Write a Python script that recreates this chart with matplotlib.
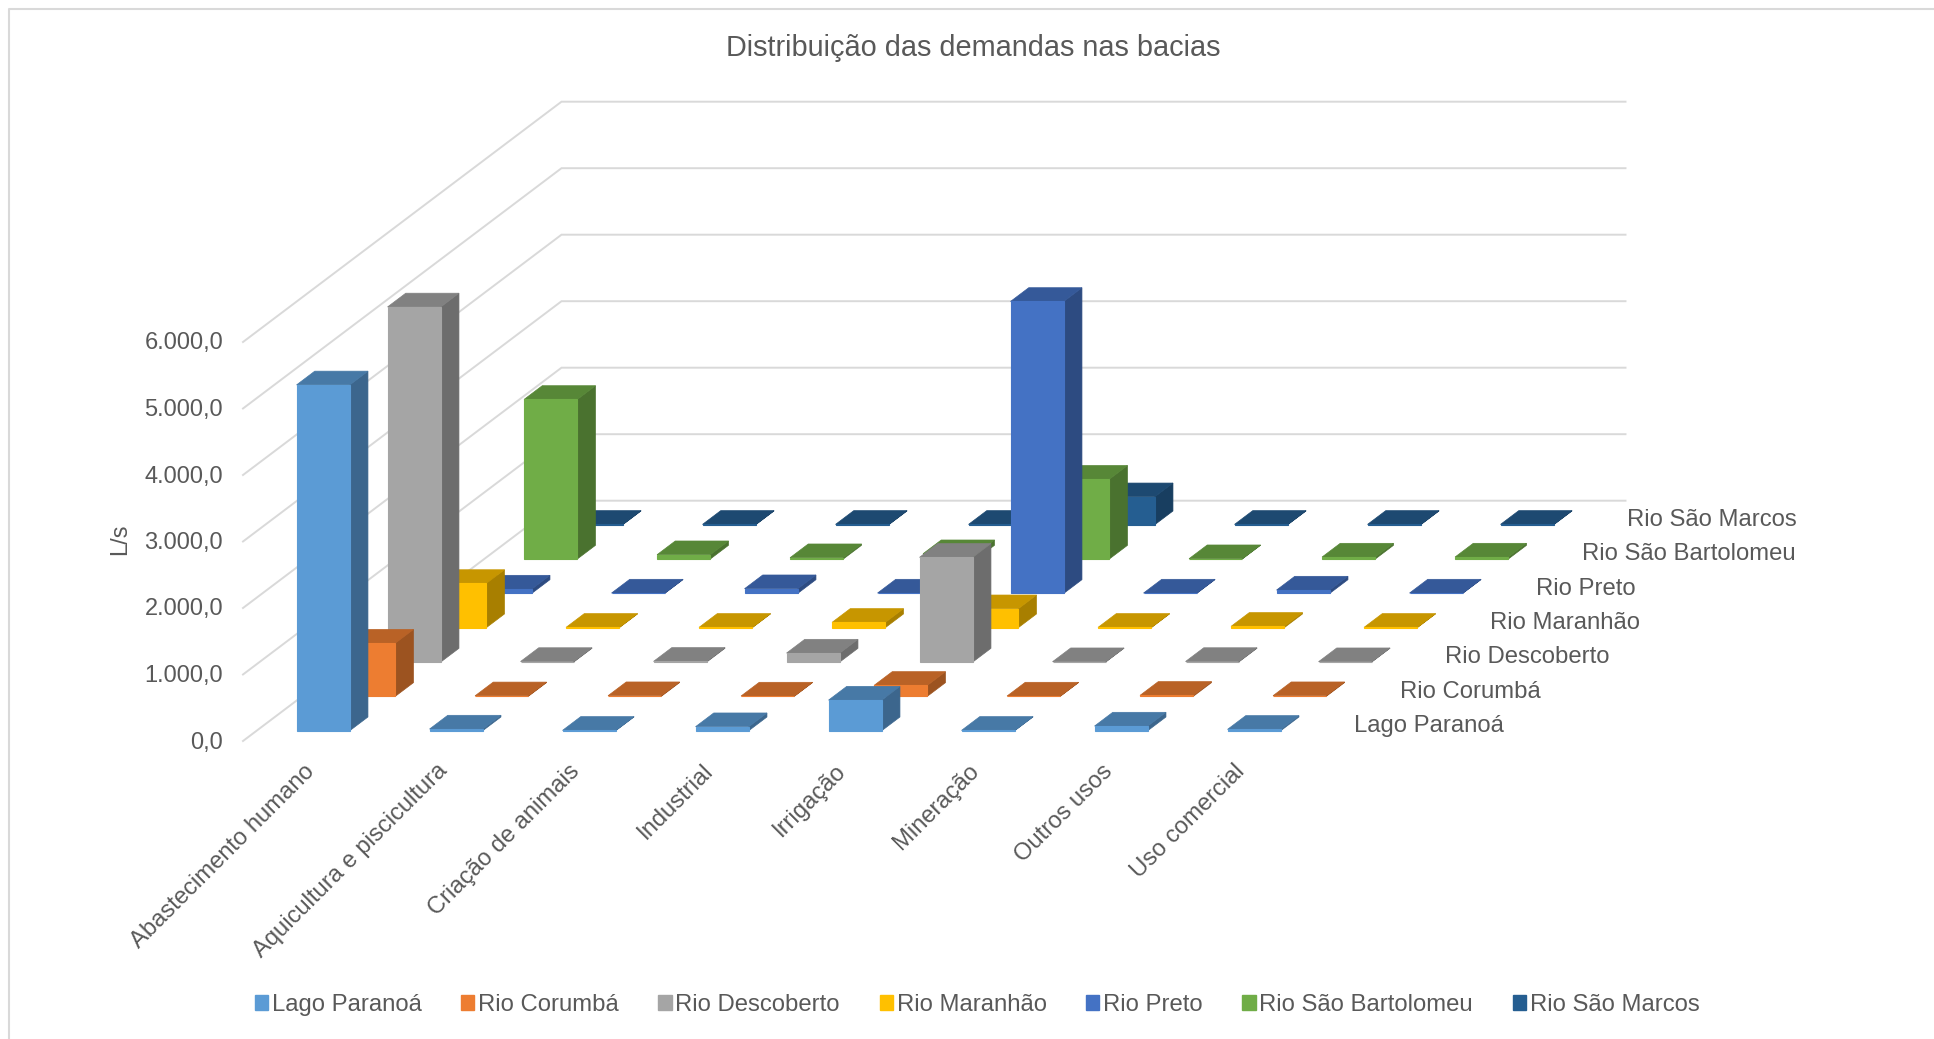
import matplotlib
matplotlib.use('Agg')
import matplotlib.pyplot as plt
from matplotlib.patches import Polygon, Patch
from matplotlib.colors import to_rgb

plt.rcParams['font.family'] = ['Liberation Sans', 'DejaVu Sans']

# ── Data (L/s) ───────────────────────────────────────────────────────────────
categories = ['Abastecimento humano', 'Aquicultura e piscicultura',
              'Criação de animais', 'Industrial', 'Irrigação', 'Mineração',
              'Outros usos', 'Uso comercial']
series_names = ['Lago Paranoá', 'Rio Corumbá', 'Rio Descoberto', 'Rio Maranhão',
                'Rio Preto', 'Rio São Bartolomeu', 'Rio São Marcos']
lago_paranoa = [5200, 25, 5, 60, 460, 5, 70, 20]
rio_corumba = [800, 8, 10, 5, 165, 5, 15, 10]
rio_descoberto = [5340, 8, 10, 135, 1575, 5, 8, 5]
rio_maranhao = [665, 5, 5, 80, 285, 5, 20, 5]
rio_preto = [65, 5, 70, 5, 4390, 5, 50, 5]
rio_sao_bartolomeu = [2400, 65, 20, 80, 1200, 5, 30, 30]
rio_sao_marcos = [5, 5, 5, 5, 420, 5, 5, 5]
values = [lago_paranoa, rio_corumba, rio_descoberto, rio_maranhao,
          rio_preto, rio_sao_bartolomeu, rio_sao_marcos]
y_ticks = [0, 1000, 2000, 3000, 4000, 5000, 6000]
y_tick_labels = ['0,0', '1.000,0', '2.000,0', '3.000,0', '4.000,0', '5.000,0', '6.000,0']

colors = ['#5B9BD5', '#ED7D31', '#A5A5A5', '#FFC000', '#4472C4', '#70AD47', '#255E91']
text_color = '#595959'
grid_color = '#D9D9D9'

# ── Oblique projection, axes work in figure pixels ───────────────────────────
x0, y0 = 243.0, 741.0
cat_step = 133.0
depth_dx, depth_dy = 45.5, 34.33
px_per_unit = 66.5 / 1000


def project(cat, depth, value=0.0):
    return (x0 + cat * cat_step + depth * depth_dx,
            y0 - depth * depth_dy - value * px_per_unit)


def shade(color, factor):
    return tuple(c * factor for c in to_rgb(color))


fig = plt.figure(figsize=(19.34, 10.39), dpi=100)
ax = fig.add_axes([0, 0, 1, 1])
ax.set_xlim(0, 1934)
ax.set_ylim(1039, 0)
ax.axis('off')

# chart frame
ax.plot([9, 9, 1934], [1039, 9, 9], color=grid_color, lw=1.5, zorder=1)

# gridlines on the floor side and the back wall
n_cat, n_ser = len(categories), len(series_names)
for v in y_ticks:
    pts = [project(0, 0, v), project(0, n_ser, v), project(n_cat, n_ser, v)]
    ax.plot(*zip(*pts), color=grid_color, lw=1.4, zorder=1, solid_joinstyle='miter')

# bars, back series first
z = 2
for s in range(n_ser - 1, -1, -1):
    base = colors[s]
    for c in range(n_cat):
        v = values[s][c]
        l, r = c + 0.3, c + 0.7
        f, b = s + 0.3, s + 0.7
        front = [project(l, f), project(r, f), project(r, f, v), project(l, f, v)]
        side = [project(r, f), project(r, b), project(r, b, v), project(r, f, v)]
        top = [project(l, f, v), project(r, f, v), project(r, b, v), project(l, b, v)]
        ax.add_patch(Polygon(side, closed=True, fc=shade(base, 0.66), ec=shade(base, 0.66), lw=0.5, zorder=z))
        ax.add_patch(Polygon(top, closed=True, fc=shade(base, 0.78), ec=shade(base, 0.78), lw=0.5, zorder=z))
        ax.add_patch(Polygon(front, closed=True, fc=base, ec=base, lw=0.8, zorder=z))
    z += 1

# value axis labels
for v, label in zip(y_ticks, y_tick_labels):
    ax.text(223, project(0, 0, v)[1] + 1.5, label, ha='right', va='center',
            fontsize=17, color=text_color)
ax.text(120, 539, 'L/s', rotation=90, ha='center', va='center', fontsize=17, color=text_color)

# category labels
for c, name in enumerate(categories):
    px = project(c, 0)[0] + 60
    ax.text(px, 760, name, rotation=45, rotation_mode='anchor', ha='right', va='top',
            fontsize=17.1, color=text_color)

# series labels along the depth axis
for s, name in enumerate(series_names):
    px, py = project(n_cat, s)
    ax.text(px + 47, py - 15, name, ha='left', va='center', fontsize=17.2, color=text_color)

ax.text(973, 48.5, 'Distribuição das demandas nas bacias', ha='center', va='center',
        fontsize=20.8, color=text_color)

handles = [Patch(fc=col, ec=col, label=name) for col, name in zip(colors, series_names)]
ax.legend(handles=handles, loc='center', bbox_to_anchor=(977, 1005),
          bbox_transform=ax.transData, ncols=n_ser, frameon=False, fontsize=17.2,
          labelcolor=text_color, handlelength=0.55, handleheight=0.55,
          handletextpad=0.16, columnspacing=1.66, borderpad=0)

fig.savefig('out.png', dpi=100)
